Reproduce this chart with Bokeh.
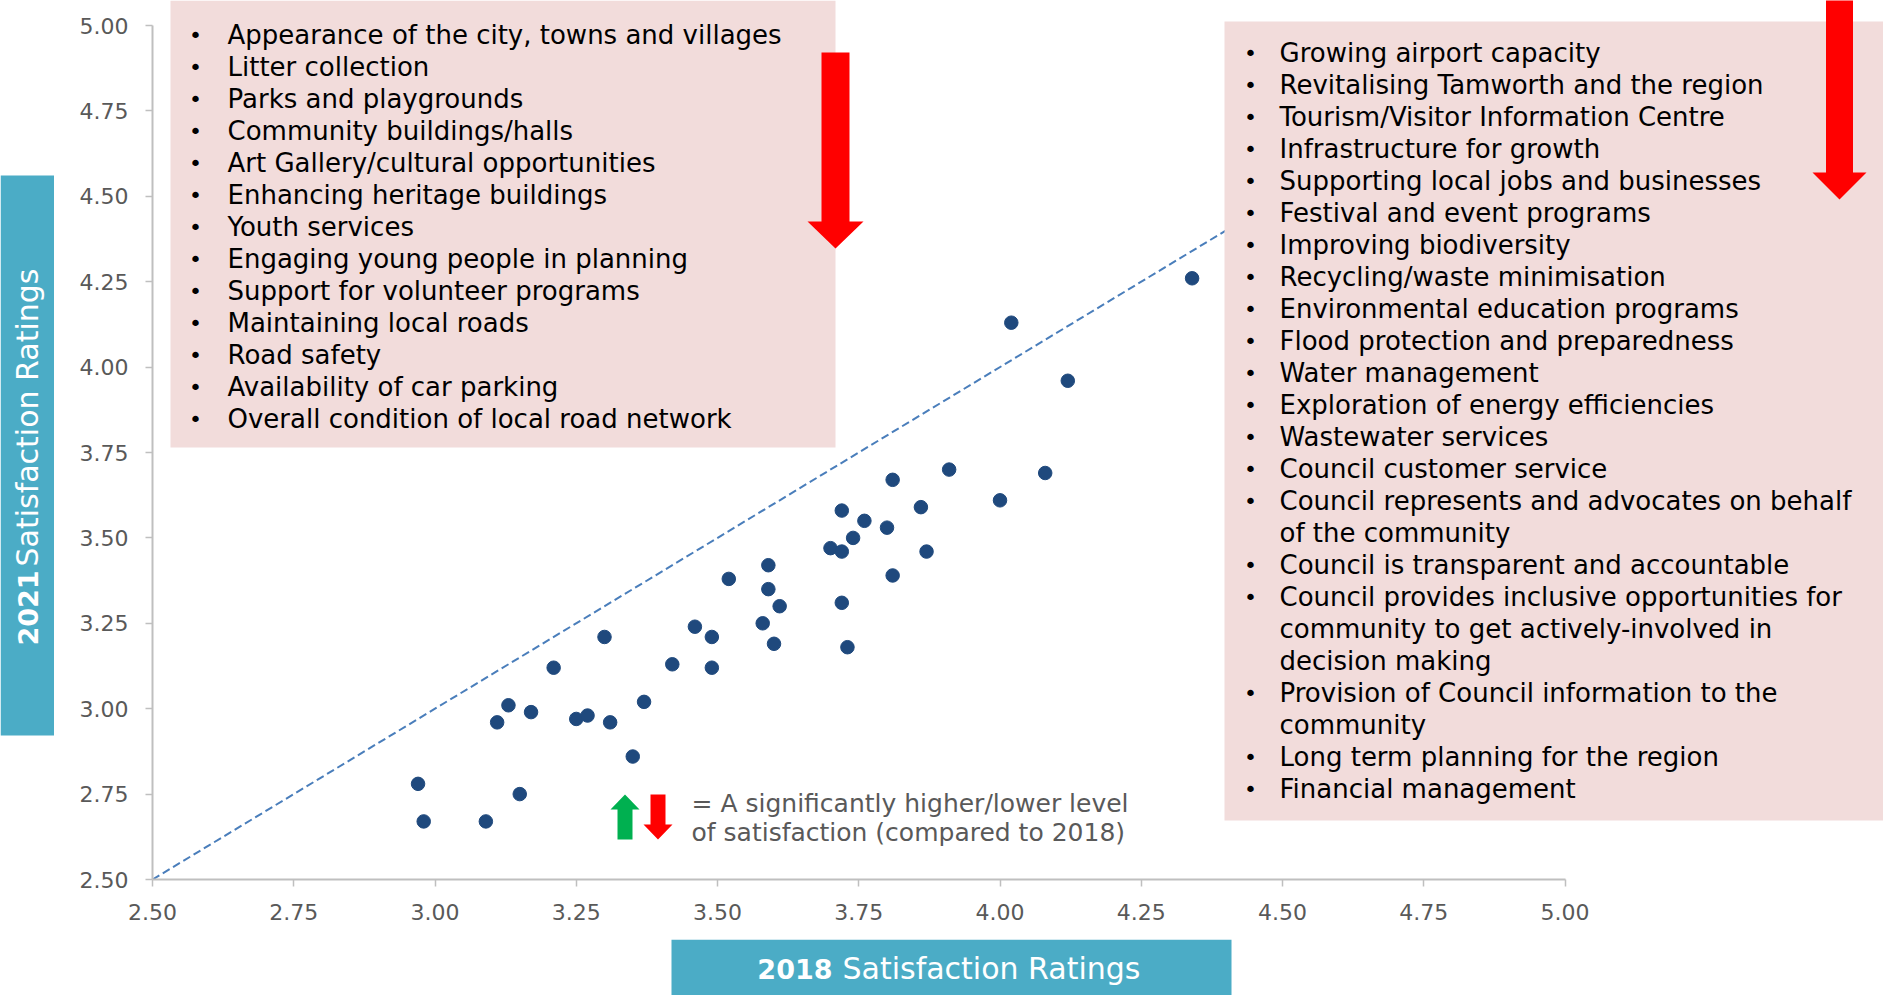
import math
from bokeh.plotting import figure
from bokeh.models import Range1d, FixedTicker, PrintfTickFormatter
from bokeh.layouts import column, row
from bokeh.core.properties import value
from bokeh.embed import file_html
from bokeh.resources import INLINE

# ---------------- data ----------------
X_TICKS = [2.50, 2.75, 3.00, 3.25, 3.50, 3.75, 4.00, 4.25, 4.50, 4.75, 5.00]
Y_TICKS = [2.50, 2.75, 3.00, 3.25, 3.50, 3.75, 4.00, 4.25, 4.50, 4.75, 5.00]

RATING_2018 = [2.97, 2.98, 3.09, 3.15, 3.11, 3.13, 3.17, 3.21, 3.25, 3.27, 3.30, 3.31,
               3.35, 3.37, 3.42, 3.46, 3.49, 3.49, 3.52, 3.58, 3.59, 3.59, 3.61, 3.60,
               3.70, 3.72, 3.72, 3.72, 3.73, 3.74, 3.76, 3.80, 3.81, 3.81, 3.86, 3.87,
               3.91, 4.00, 4.02, 4.08, 4.12, 4.34]
RATING_2021 = [2.78, 2.67, 2.67, 2.75, 2.96, 3.01, 2.99, 3.12, 2.97, 2.98, 3.21, 2.96,
               2.86, 3.02, 3.13, 3.24, 3.21, 3.12, 3.38, 3.25, 3.42, 3.35, 3.30, 3.19,
               3.47, 3.46, 3.58, 3.31, 3.18, 3.50, 3.55, 3.53, 3.67, 3.39, 3.59, 3.46,
               3.70, 3.61, 4.13, 3.69, 3.96, 4.26]

LEFT_ITEMS = [
    "Appearance of the city, towns and villages",
    "Litter collection",
    "Parks and playgrounds",
    "Community buildings/halls",
    "Art Gallery/cultural opportunities",
    "Enhancing heritage buildings",
    "Youth services",
    "Engaging young people in planning",
    "Support for volunteer programs",
    "Maintaining local roads",
    "Road safety",
    "Availability of car parking",
    "Overall condition of local road network",
]
RIGHT_ITEMS = [
    "Growing airport capacity",
    "Revitalising Tamworth and the region",
    "Tourism/Visitor Information Centre",
    "Infrastructure for growth",
    "Supporting local jobs and businesses",
    "Festival and event programs",
    "Improving biodiversity",
    "Recycling/waste minimisation",
    "Environmental education programs",
    "Flood protection and preparedness",
    "Water management",
    "Exploration of energy efficiencies",
    "Wastewater services",
    "Council customer service",
    "Council represents and advocates on behalf\nof the community",
    "Council is transparent and accountable",
    "Council provides inclusive opportunities for\ncommunity to get actively-involved in\ndecision making",
    "Provision of Council information to the\ncommunity",
    "Long term planning for the region",
    "Financial management",
]
X_TITLE_BOLD = "2018"
Y_TITLE_BOLD = "2021"
TITLE_REST = "Satisfaction Ratings"
LEGEND_LINES = ["= A significantly higher/lower level",
                "of satisfaction (compared to 2018)"]

# ---------------- layout ----------------
W, H = 1883, 995
YT_W = 54            # width of the left strip holding the y title box
XT_H = 56            # height of the bottom strip holding the x title box
MAIN_W, MAIN_H = W - YT_W, H - XT_H
FRAME_LEFT = 152     # page x of the y axis
FRAME_BOTTOM = 879   # page y of the x axis
PX_X = 565.0
PX_Y = 341.6
X0, X1 = X_TICKS[0], X_TICKS[-1]
Y0, Y1 = Y_TICKS[0], Y_TICKS[-1]


def dx(px):
    return X0 + (px - FRAME_LEFT) / PX_X


def dy(py):
    return Y0 + (FRAME_BOTTOM - py) / PX_Y


FONT = "DejaVu Sans"
PINK = "#F2DCDB"
TEAL = "#4BACC6"
GREY = "#595959"
AXIS_GREY = "#BFBFBF"

p = figure(width=MAIN_W, height=MAIN_H,
           x_range=Range1d(X0, dx(W)),
           y_range=Range1d(Y0, dy(0)),
           output_backend="svg", toolbar_location=None,
           min_border_left=FRAME_LEFT - YT_W, min_border_bottom=MAIN_H - FRAME_BOTTOM,
           min_border_top=0, min_border_right=0,
           outline_line_color=None, background_fill_color="white",
           border_fill_color="white")
p.grid.visible = False

for ax, ticks in ((p.xaxis[0], X_TICKS), (p.yaxis[0], Y_TICKS)):
    ax.ticker = FixedTicker(ticks=ticks)
    ax.formatter = PrintfTickFormatter(format="%.2f")
    ax.bounds = (ticks[0], ticks[-1])
    ax.axis_line_color = AXIS_GREY
    ax.axis_line_width = 2
    ax.major_tick_line_color = AXIS_GREY
    ax.major_tick_line_width = 1.5
    ax.major_tick_in = 0
    ax.major_tick_out = 7
    ax.minor_tick_line_color = None
    ax.major_label_text_font = FONT
    ax.major_label_text_font_size = "22px"
    ax.major_label_text_color = GREY
    ax.major_label_standoff = 17

# reference diagonal
p.line(x=[X0, X1], y=[Y0, Y1], line_color="#4A7EBB", line_width=2, line_dash="8 4")

# points
p.scatter(x=RATING_2018, y=RATING_2021, size=13.5, fill_color="#1F497D",
          line_color="#1F497D")

# pink boxes
p.quad(left=[dx(170), dx(1224)], right=[dx(835), dx(1900)],
       top=[dy(0), dy(21)], bottom=[dy(447), dy(820)],
       fill_color=PINK, line_color=None)


def arrow(cx, base, neck, tip, shaft_w, head_w):
    pts = [(cx - shaft_w / 2, base), (cx + shaft_w / 2, base), (cx + shaft_w / 2, neck),
           (cx + head_w / 2, neck), (cx, tip), (cx - head_w / 2, neck),
           (cx - shaft_w / 2, neck)]
    return [dx(a) for a, b in pts], [dy(b) for a, b in pts]


arrows = [
    (arrow(835, 52, 221, 248, 28, 56), "#FF0000"),
    (arrow(1839, -10, 172, 199, 27, 54), "#FF0000"),
    (arrow(624.5, 839, 809, 794, 15, 29), "#00B050"),
    (arrow(657.5, 794, 824, 839, 15, 29), "#FF0000"),
]
p.patches(xs=[a[0][0] for a in arrows], ys=[a[0][1] for a in arrows],
          fill_color=[a[1] for a in arrows], line_color=None)


def box_lines(items, first_y, step, bullet_x, text_x):
    bx, by, tx, ty, tt = [], [], [], [], []
    i = 0
    for item in items:
        for j, line in enumerate(item.split("\n")):
            y = dy(first_y + i * step)
            if j == 0:
                bx.append(dx(bullet_x))
                by.append(y)
            tx.append(dx(text_x))
            ty.append(y)
            tt.append(line)
            i += 1
    return bx, by, tx, ty, tt


for items, fy, bxp, txp in ((LEFT_ITEMS, 34.8, 195, 227), (RIGHT_ITEMS, 52.8, 1250, 1279)):
    bx, by, tx, ty, tt = box_lines(items, fy, 32.0, bxp, txp)
    p.text(x=bx, y=by, text=["\u2022"] * len(bx), text_font=value(FONT),
           text_font_size="22px", text_align="center", text_baseline="middle",
           text_color="black")
    p.text(x=tx, y=ty, text=tt, text_font=value(FONT), text_font_size="26px",
           text_align="left", text_baseline="middle", text_color="black")

# legend text
p.text(x=[dx(691)] * 2, y=[dy(803), dy(832)], text=LEGEND_LINES, text_font=value(FONT),
       text_font_size="25px", text_align="left", text_baseline="middle",
       text_color=GREY)


def strip(width, height, y_top, border_bottom=0):
    f = figure(width=width, height=height, x_range=Range1d(0, width),
               y_range=Range1d(0, y_top), output_backend="svg",
               toolbar_location=None, x_axis_type=None, y_axis_type=None,
               min_border=0, min_border_left=0, min_border_right=0,
               min_border_top=0, min_border_bottom=border_bottom,
               outline_line_color=None, background_fill_color="white",
               border_fill_color="white")
    f.grid.visible = False
    return f


# y title strip: its frame lines up with the main frame (page y 0..879)
yt = strip(YT_W, MAIN_H, FRAME_BOTTOM, border_bottom=MAIN_H - FRAME_BOTTOM)


def ty_(py):
    return FRAME_BOTTOM - py


yt.quad(left=[0], right=[YT_W], top=[ty_(175)], bottom=[ty_(735)],
        fill_color=TEAL, line_color=None)
yt.text(x=[27], y=[ty_(645)], text=[Y_TITLE_BOLD], angle=math.pi / 2,
        text_font=value(FONT), text_font_style="bold", text_font_size="27px",
        text_align="left", text_baseline="middle", text_color="white")
yt.text(x=[27], y=[ty_(566)], text=[TITLE_REST], angle=math.pi / 2,
        text_font=value(FONT), text_font_size="30px",
        text_align="left", text_baseline="middle", text_color="white")

# x title strip (page x 0..1883, page y 939..995)
xt = strip(W, XT_H, XT_H)
xt.quad(left=[671], right=[1231], top=[XT_H], bottom=[0],
        fill_color=TEAL, line_color=None)
xt.text(x=[832], y=[H - 968], text=[X_TITLE_BOLD], text_font=value(FONT),
        text_font_style="bold", text_font_size="27px", text_align="right",
        text_baseline="middle", text_color="white")
xt.text(x=[842], y=[H - 968], text=[TITLE_REST], text_font=value(FONT),
        text_font_size="30px", text_align="left", text_baseline="middle",
        text_color="white")

layout = column(row(yt, p, spacing=0), xt, spacing=0)
open("out.html", "w").write(file_html(layout, INLINE))
